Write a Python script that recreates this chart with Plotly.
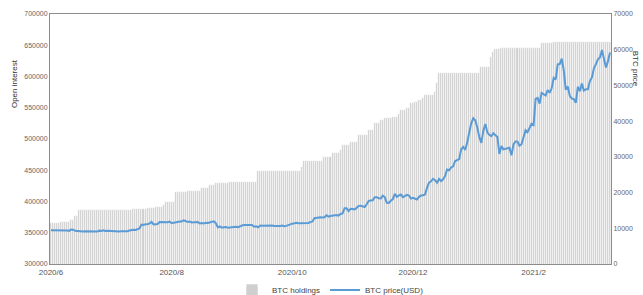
import pandas as pd
import plotly.graph_objects as go

# Daily categories (2020-06-12 .. 2021-03-17)
dates = pd.date_range("2020-06-12", "2021-03-17", freq="D").strftime("%Y-%m-%d").tolist()

# BTC holdings (left axis)
holdings = ([365000] * 5 + [367500] * 5 + [371000] * 2 + [377000] * 2 + [386400] * 27 +
            [387500] * 7 + [389100] * 4 + [391700] * 4 + [394400] * 1 + [400000] * 5 +
            [414700] * 6 + [416800] * 7 + [422100] * 4 + [426400] * 3 + [429100] * 7 +
            [431700] * 14 + [449300] * 22 + [455700] * 1 + [465000] * 10 + [471700] * 4 +
            [478100] * 4 + [482400] * 1 + [490400] * 4 + [495700] * 4 + [506400] * 5 +
            [514400] * 3 + [525100] * 3 + [530400] * 2 + [533100] * 4 + [535700] * 3 +
            [540000] * 1 + [546400] * 3 + [549100] * 2 + [557100] * 2 + [559700] * 2 +
            [562400] * 2 + [565100] * 1 + [570400] * 5 + [575700] * 1 + [589100] * 1 +
            [606100] * 21 + [615000] * 5 + [631700] * 1 + [639700] * 1 + [643500] * 3 +
            [646000] * 20 + [653100] * 6 + [655000] * 29)

# BTC price in USD (right axis)
price = [
    # Jun 12-30
    9480, 9475, 9390, 9430, 9520, 9460, 9380, 9300, 9360, 9280, 9680, 9620, 9290, 9250, 9160, 9010, 9120, 9190, 9140,
    # Jul
    9230, 9090, 9070, 9130, 9070, 9340, 9250, 9430, 9240, 9290, 9240, 9300, 9240, 9250, 9200, 9130,
    9150, 9170, 9210, 9160, 9390, 9540, 9610, 9550, 9710, 9930, 11030, 10910, 11100, 11110, 11350,
    # Aug
    11800, 11070, 11230, 11190, 11740, 11760, 11600, 11750, 11680, 11880, 11410, 11580, 11780, 11770, 11870, 11910,
    12250, 11990, 11760, 11880, 11650, 11660, 11650, 11780, 11350, 11470, 11320, 11540, 11510, 11680, 11710,
    # Sep
    11970, 11410, 10250, 10510, 10170, 10280, 10370, 10130, 10240, 10360, 10400, 10440, 10330, 10680, 10790,
    10950, 10940, 10930, 11090, 10920, 10420, 10540, 10250, 10740, 10690, 10730, 10770, 10710, 10840, 10780,
    # Oct
    10620, 10570, 10550, 10670, 10790, 10600, 10670, 10920, 11060, 11300, 11380, 11550, 11430, 11430, 11500, 11320,
    11360, 11480, 11740, 11920, 12820, 12970, 12930, 13110, 13030, 13070, 13650, 13270, 13460, 13560, 13800,
    # Nov
    13740, 13550, 14020, 14150, 15590, 15580, 14830, 15480, 15330, 15300, 15700, 16280, 16320, 16070, 15960,
    16720, 17650, 17800, 17820, 18680, 18710, 18420, 18370, 19160, 18730, 17150, 17110, 17720, 18180, 19630,
    # Dec
    18800, 19200, 19450, 18700, 19150, 19360, 19170, 18320, 18550, 18260, 18060, 18800, 19170, 19270, 19440, 21310,
    22800, 23140, 23870, 23480, 22750, 23820, 23240, 23730, 24660, 26440, 26250, 27040, 27360, 28840, 29000,
    # Jan
    29370, 32130, 32780, 31970, 33990, 36820, 39370, 40800, 40250, 38240, 35540, 33920, 37320, 39190, 36830, 36180,
    35790, 36630, 36070, 35550, 30830, 33010, 32100, 32290, 32370, 32570, 30430, 33470, 34320, 34270, 33110,
    # Feb
    33540, 35510, 37470, 36930, 38140, 39270, 38900, 46200, 46480, 44920, 47910, 47500, 47170, 48720,
    47940, 49200, 52150, 51680, 55890, 56000, 57490, 54210, 48820, 49710, 47080, 46340, 46190, 45140,
    # Mar 1-17
    49630, 48380, 50540, 48560, 48930, 48910, 51210, 52250, 54820, 55960, 57330, 57810, 59900, 57500, 55000, 56800, 59200,
]

tick_idx = [0, 60, 120, 180, 240]
tick_text = ["2020/6", "2020/8", "2020/10", "2020/12", "2021/2"]
left_ticks = [300000, 350000, 400000, 450000, 500000, 550000, 600000, 650000, 700000]
right_ticks = [0, 10000, 20000, 30000, 40000, 50000, 60000, 70000]

fig = go.Figure()
fig.add_trace(go.Bar(
    x=dates, y=holdings, name="BTC holdings",
    marker=dict(color="#cfcfcf", line=dict(width=0.6, color="#ffffff")),
    yaxis="y",
))
fig.add_trace(go.Scatter(
    x=dates, y=price, name="BTC price(USD)", mode="lines",
    line=dict(color="#5b9bd5", width=2),
    yaxis="y2",
))

axis_col = "#8c8c8c"
FONT = "Liberation Sans, Arial, sans-serif"
tick_font = dict(family=FONT, size=7, color="#666666")

fig.update_layout(
    width=643, height=295,
    margin=dict(l=50, r=32, t=14, b=31, autoexpand=False),
    paper_bgcolor="white", plot_bgcolor="white",
    bargap=0.0,
    showlegend=True,
    legend=dict(orientation="h", x=0.5, xanchor="center", y=-0.046, yanchor="top",
                font=dict(family=FONT, size=8, color="#444444"),
                itemwidth=30, bgcolor="rgba(0,0,0,0)"),
    xaxis=dict(
        type="category", range=[-0.5, len(dates) - 0.5],
        tickmode="array", tickvals=[dates[i] for i in tick_idx], ticktext=tick_text,
        tickangle=0, showgrid=False, zeroline=False,
        showline=True, linecolor=axis_col, linewidth=1, mirror=True,
        ticks="", tickfont=dict(family=FONT, size=8, color="#555555"),
    ),
    yaxis=dict(
        range=[300000, 700000], tickmode="array", tickvals=left_ticks, tickformat="d",
        showgrid=False, zeroline=False, showline=True, linecolor=axis_col, linewidth=1,
        ticks="", tickfont=tick_font,
    ),
    yaxis2=dict(
        range=[0, 70000], tickmode="array", tickvals=right_ticks, tickformat="d",
        overlaying="y", side="right",
        showgrid=False, zeroline=False, showline=True, linecolor=axis_col, linewidth=1,
        ticks="", tickfont=tick_font,
    ),
    annotations=[
        dict(text="Open interest", xref="paper", yref="paper", x=-0.064, y=0.72,
             xanchor="center", yanchor="middle", textangle=-90, showarrow=False,
             font=dict(family=FONT, size=8, color="#333333")),
        dict(text="BTC price", xref="paper", yref="paper", x=1.045, y=0.78,
             xanchor="center", yanchor="middle", textangle=90, showarrow=False,
             font=dict(family=FONT, size=8, color="#333333")),
    ],
)

fig.write_html("out.html", config={"displayModeBar": False},
               post_script="document.body.style.margin='0';")
